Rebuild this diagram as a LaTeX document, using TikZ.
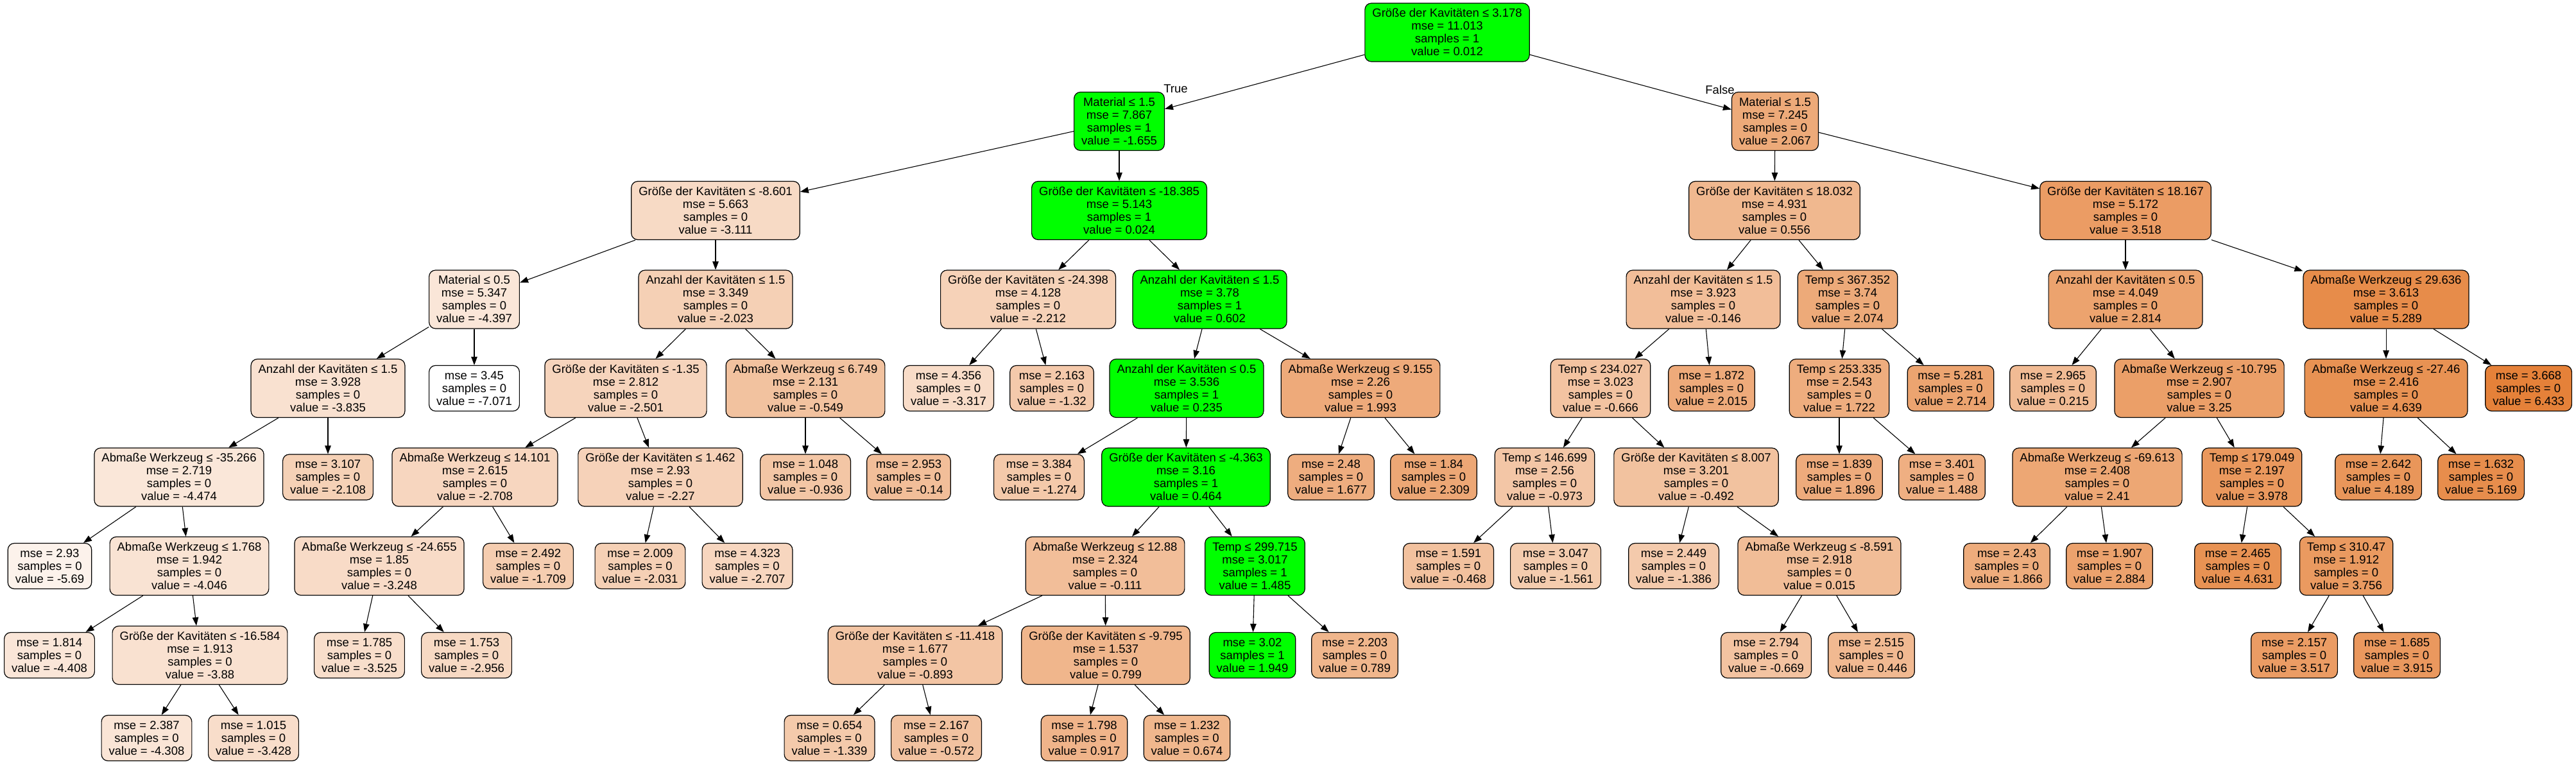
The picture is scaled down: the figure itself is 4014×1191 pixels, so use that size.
\documentclass[tikz,border=0pt]{standalone}
\usepackage{fontspec}
\setmainfont{Liberation Sans}
\usetikzlibrary{arrows.meta}
\definecolor{tc}{RGB}{229,129,57}
\definecolor{tgreen}{RGB}{0,255,0}
\newcommand\tfs{\rule{0pt}{15.5pt}}
\newcommand\tls{\rule[-3.5pt]{0pt}{3.5pt}}
\tikzset{
  tone/.code={\pgfmathsetmacro\tonepct{max(0,min(100,(#1+7.071)/13.504*100))}%
    \edef\tonetmp{\noexpand\tikzset{fill=tc!\tonepct!white}}\tonetmp},
  tbox/.style={draw=black, line width=1.2pt, rounded corners=10pt, align=center,
    inner xsep=11.5pt, inner ysep=0pt, font=\fontsize{18.5}{20}\selectfont},
  tint/.style={tbox, minimum height=91pt},
  tleaf/.style={tbox, minimum height=71pt},
  tlbl/.style={inner sep=0pt, font=\fontsize{18.5}{20}\selectfont},
  edge/.style={draw=black, line width=1.1pt, -{Triangle[length=13pt,width=9.5pt]}}
}
% name, x, y, value, condition, mse
\newcommand\tIN[6]{\node[tint,tone=#4] (#1) at (#2,#3) {\tfs#5\\mse = #6\\samples = 0\\value = #4\tls};}
\newcommand\tGIN[6]{\node[tint,fill=tgreen] (#1) at (#2,#3) {\tfs#5\\mse = #6\\samples = 1\\value = #4\tls};}
% name, x, y, mse, value
\newcommand\tLF[5]{\node[tleaf,tone=#5] (#1) at (#2,#3) {\tfs mse = #4\\samples = 0\\value = #5\tls};}
\newcommand\tGLF[5]{\node[tleaf,fill=tgreen] (#1) at (#2,#3) {\tfs mse = #4\\samples = 1\\value = #5\tls};}
\begin{document}
\begin{tikzpicture}[x=1pt,y=-1pt]
\useasboundingbox (0,0) rectangle (4014,1191);
% rank 0
\tGIN{n0}{2255}{50.5}{0.012}{Größe der Kavitäten ≤ 3.178}{11.013}
% rank 1
\tGIN{n1}{1744}{189}{-1.655}{Material ≤ 1.5}{7.867}
\tIN{n2}{2766}{189}{2.067}{Material ≤ 1.5}{7.245}
% rank 2
\tIN{n3}{1115}{328}{-3.111}{Größe der Kavitäten ≤ -8.601}{5.663}
\tGIN{n4}{1744}{328}{0.024}{Größe der Kavitäten ≤ -18.385}{5.143}
\tIN{n5}{2765}{328}{0.556}{Größe der Kavitäten ≤ 18.032}{4.931}
\tIN{n6}{3312}{328}{3.518}{Größe der Kavitäten ≤ 18.167}{5.172}
% rank 3
\tIN{n7}{739}{466.5}{-4.397}{Material ≤ 0.5}{5.347}
\tIN{n8}{1115}{466.5}{-2.023}{Anzahl der Kavitäten ≤ 1.5}{3.349}
\tIN{n9}{1602}{466.5}{-2.212}{Größe der Kavitäten ≤ -24.398}{4.128}
\tGIN{n10}{1885}{466.5}{0.602}{Anzahl der Kavitäten ≤ 1.5}{3.78}
\tIN{n11}{2654}{466.5}{-0.146}{Anzahl der Kavitäten ≤ 1.5}{3.923}
\tIN{n12}{2879}{466.5}{2.074}{Temp ≤ 367.352}{3.74}
\tIN{n13}{3312}{466.5}{2.814}{Anzahl der Kavitäten ≤ 0.5}{4.049}
\tIN{n14}{3718}{466.5}{5.289}{Abmaße Werkzeug ≤ 29.636}{3.613}
% rank 4
\tIN{n15}{511}{605}{-3.835}{Anzahl der Kavitäten ≤ 1.5}{3.928}
\tLF{n16}{739}{605}{3.45}{-7.071}
\tIN{n17}{975}{605}{-2.501}{Größe der Kavitäten ≤ -1.35}{2.812}
\tIN{n18}{1255}{605}{-0.549}{Abmaße Werkzeug ≤ 6.749}{2.131}
\tLF{n19}{1478}{605}{4.356}{-3.317}
\tLF{n20}{1639}{605}{2.163}{-1.32}
\tGIN{n21}{1849}{605}{0.235}{Anzahl der Kavitäten ≤ 0.5}{3.536}
\tIN{n22}{2120}{605}{1.993}{Abmaße Werkzeug ≤ 9.155}{2.26}
\tIN{n23}{2494}{605}{-0.666}{Temp ≤ 234.027}{3.023}
\tLF{n24}{2667}{605}{1.872}{2.015}
\tIN{n25}{2866}{605}{1.722}{Temp ≤ 253.335}{2.543}
\tLF{n26}{3039.5}{605}{5.281}{2.714}
\tLF{n27}{3199}{605}{2.965}{0.215}
\tIN{n28}{3427}{605}{3.25}{Abmaße Werkzeug ≤ -10.795}{2.907}
\tIN{n29}{3718}{605}{4.639}{Abmaße Werkzeug ≤ -27.46}{2.416}
\tLF{n30}{3940}{605}{3.668}{6.433}
% rank 5
\tIN{n31}{279}{743.5}{-4.474}{Abmaße Werkzeug ≤ -35.266}{2.719}
\tLF{n32}{511}{743.5}{3.107}{-2.108}
\tIN{n33}{740}{743.5}{-2.708}{Abmaße Werkzeug ≤ 14.101}{2.615}
\tIN{n34}{1029}{743.5}{-2.27}{Größe der Kavitäten ≤ 1.462}{2.93}
\tLF{n35}{1255}{743.5}{1.048}{-0.936}
\tLF{n36}{1416}{743.5}{2.953}{-0.14}
\tLF{n37}{1619}{743.5}{3.384}{-1.274}
\tGIN{n38}{1848}{743.5}{0.464}{Größe der Kavitäten ≤ -4.363}{3.16}
\tLF{n39}{2074}{743.5}{2.48}{1.677}
\tLF{n40}{2234}{743.5}{1.84}{2.309}
\tIN{n41}{2407}{743.5}{-0.973}{Temp ≤ 146.699}{2.56}
\tIN{n42}{2643}{743.5}{-0.492}{Größe der Kavitäten ≤ 8.007}{3.201}
\tLF{n43}{2866}{743.5}{1.839}{1.896}
\tLF{n44}{3026}{743.5}{3.401}{1.488}
\tIN{n45}{3268}{743.5}{2.41}{Abmaße Werkzeug ≤ -69.613}{2.408}
\tIN{n46}{3509}{743.5}{3.978}{Temp ≤ 179.049}{2.197}
\tLF{n47}{3706}{743.5}{2.642}{4.189}
\tLF{n48}{3866}{743.5}{1.632}{5.169}
% rank 6
\tLF{n49}{77.5}{882}{2.93}{-5.69}
\tIN{n50}{295}{882}{-4.046}{Abmaße Werkzeug ≤ 1.768}{1.942}
\tIN{n51}{591}{882}{-3.248}{Abmaße Werkzeug ≤ -24.655}{1.85}
\tLF{n52}{823}{882}{2.492}{-1.709}
\tLF{n53}{997.5}{882}{2.009}{-2.031}
\tLF{n54}{1164.5}{882}{4.323}{-2.707}
\tIN{n55}{1722}{882}{-0.111}{Abmaße Werkzeug ≤ 12.88}{2.324}
\tGIN{n56}{1955.5}{882}{1.485}{Temp ≤ 299.715}{3.017}
\tLF{n57}{2257}{882}{1.591}{-0.468}
\tLF{n58}{2424}{882}{3.047}{-1.561}
\tLF{n59}{2608}{882}{2.449}{-1.386}
\tIN{n60}{2835}{882}{0.015}{Abmaße Werkzeug ≤ -8.591}{2.918}
\tLF{n61}{3127}{882}{2.43}{1.866}
\tLF{n62}{3287}{882}{1.907}{2.884}
\tLF{n63}{3487}{882}{2.465}{4.631}
\tIN{n64}{3656}{882}{3.756}{Temp ≤ 310.47}{1.912}
% rank 7
\tLF{n65}{77}{1021}{1.814}{-4.408}
\tIN{n66}{311.5}{1021}{-3.88}{Größe der Kavitäten ≤ -16.584}{1.913}
\tLF{n67}{560}{1021}{1.785}{-3.525}
\tLF{n68}{727}{1021}{1.753}{-2.956}
\tIN{n69}{1426}{1021}{-0.893}{Größe der Kavitäten ≤ -11.418}{1.677}
\tIN{n70}{1723}{1021}{0.799}{Größe der Kavitäten ≤ -9.795}{1.537}
\tGLF{n71}{1951.5}{1021}{3.02}{1.949}
\tLF{n72}{2111}{1021}{2.203}{0.789}
\tLF{n73}{2752}{1021}{2.794}{-0.669}
\tLF{n74}{2916}{1021}{2.515}{0.446}
\tLF{n75}{3575}{1021}{2.157}{3.517}
\tLF{n76}{3735}{1021}{1.685}{3.915}
% rank 8
\tLF{n77}{228.5}{1150}{2.387}{-4.308}
\tLF{n78}{395}{1150}{1.015}{-3.428}
\tLF{n79}{1292.5}{1150}{0.654}{-1.339}
\tLF{n80}{1459}{1150}{2.167}{-0.572}
\tLF{n81}{1689.5}{1150}{1.798}{0.917}
\tLF{n82}{1849.5}{1150}{1.232}{0.674}
% labels
\node[tlbl] (tlab) at (1832,138.5) {True};
\node[tlbl] (flab) at (2680,139.5) {False};
% edges
\foreach \a/\b in {n0/n1, n0/n2, n1/n3, n1/n4, n2/n5, n2/n6, n3/n7, n3/n8, n4/n9, n4/n10,
  n5/n11, n5/n12, n6/n13, n6/n14, n7/n15, n7/n16, n8/n17, n8/n18, n9/n19, n9/n20,
  n10/n21, n10/n22, n11/n23, n11/n24, n12/n25, n12/n26, n13/n27, n13/n28, n14/n29, n14/n30,
  n15/n31, n15/n32, n17/n33, n17/n34, n18/n35, n18/n36, n21/n37, n21/n38, n22/n39, n22/n40,
  n23/n41, n23/n42, n25/n43, n25/n44, n28/n45, n28/n46, n29/n47, n29/n48, n31/n49, n31/n50,
  n33/n51, n33/n52, n34/n53, n34/n54, n38/n55, n38/n56, n41/n57, n41/n58, n42/n59, n42/n60,
  n45/n61, n45/n62, n46/n63, n46/n64, n50/n65, n50/n66, n51/n67, n51/n68, n55/n69, n55/n70,
  n56/n71, n56/n72, n60/n73, n60/n74, n64/n75, n64/n76, n66/n77, n66/n78, n69/n79, n69/n80,
  n70/n81, n70/n82}
  \draw[edge] (\a) -- (\b);
\end{tikzpicture}
\end{document}
